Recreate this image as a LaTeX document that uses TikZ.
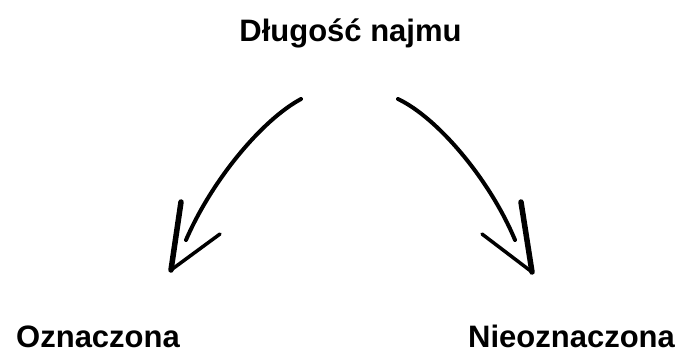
\documentclass[tikz,border=0pt]{standalone}
\usepackage{fontspec}
\setmainfont{Liberation Sans}
\begin{document}
\begin{tikzpicture}[x=1pt,y=-1pt,
  lbl/.style={font=\fontsize{31}{37}\selectfont\bfseries, inner sep=0pt},
  shaft/.style={line width=4pt, line cap=round},
  headlong/.style={line width=5.5pt, line cap=round, line join=round},
  headshort/.style={line width=3.5pt, line cap=round}]
\useasboundingbox (0,0) rectangle (680,354);
\node[lbl, anchor=base] (t) at (350.5,41) {Długość najmu};
\node[lbl, anchor=base west] (l) at (16,347) {Oznaczona};
\node[lbl, anchor=base west] (r) at (468,347) {Nieoznaczona};
% left arrow
\coordinate (ls) at (301,99);
\coordinate (le) at (186,240);
\coordinate (lt) at (171,270);
\coordinate (lh1) at (181,202);
\coordinate (lh2) at (220,234);
\draw[shaft] (ls) .. controls (262,120) and (212,180) .. (le);
\draw[headlong] (lh1) -- (lt);
\draw[headshort] (lt) -- (lh2);
% right arrow
\coordinate (rs) at (398,99);
\coordinate (re) at (515,240);
\coordinate (rt) at (532,272);
\coordinate (rh1) at (521,202);
\coordinate (rh2) at (482,234);
\draw[shaft] (rs) .. controls (438,118) and (490,180) .. (re);
\draw[headlong] (rh1) -- (rt);
\draw[headshort] (rt) -- (rh2);
\end{tikzpicture}
\end{document}
